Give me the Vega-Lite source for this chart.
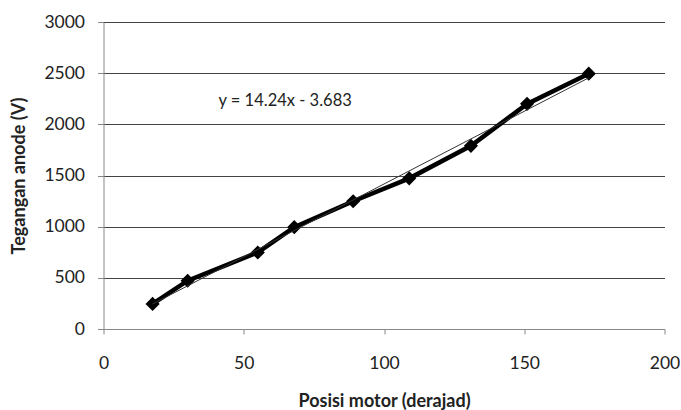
{
  "$schema": "https://vega.github.io/schema/vega-lite/v6.json",
  "width": 561,
  "height": 307,
  "autosize": "none",
  "padding": {"left": 103.5, "top": 22, "right": 16.5, "bottom": 81},
  "background": "white",
  "config": {
    "view": {"stroke": null},
    "font": "Lato",
    "axis": {"labelFont": "Lato", "titleFont": "Lato", "labelColor": "#222", "titleColor": "#222"}
  },
  "data": {
    "values": [
      {"x": 17.5, "y": 245},
      {"x": 30, "y": 472},
      {"x": 55, "y": 748},
      {"x": 68, "y": 995},
      {"x": 89, "y": 1248},
      {"x": 109, "y": 1472},
      {"x": 131, "y": 1790},
      {"x": 151, "y": 2200},
      {"x": 173, "y": 2495}
    ]
  },
  "encoding": {
    "x": {
      "field": "x", "type": "quantitative",
      "scale": {"domain": [0, 200], "nice": false, "zero": true},
      "axis": {
        "values": [0, 50, 100, 150, 200],
        "title": "Posisi motor (derajad)",
        "titleFontSize": 18, "titleFontWeight": "bold", "titlePadding": 21,
        "labelFontSize": 17.5, "labelPadding": 20, "tickSize": 5,
        "grid": false, "domainColor": "#888", "tickColor": "#888", "labelFlush": false
      }
    },
    "y": {
      "field": "y", "type": "quantitative",
      "scale": {"domain": [0, 3000], "nice": false},
      "axis": {
        "values": [0, 500, 1000, 1500, 2000, 2500, 3000],
        "format": "d",
        "title": "Tegangan anode (V)",
        "titleFontSize": 18, "titleFontWeight": "bold", "titlePadding": 15,
        "labelFontSize": 17.5, "labelPadding": 13, "tickSize": 6,
        "grid": true, "gridColor": "#444", "gridWidth": 1,
        "domainColor": "#888", "tickColor": "#888"
      }
    }
  },
  "layer": [
    {
      "mark": {"type": "line", "color": "black", "strokeWidth": 4.5}
    },
    {
      "mark": {"type": "point", "shape": "diamond", "filled": true, "color": "black", "size": 200, "opacity": 1}
    },
    {
      "transform": [{"regression": "y", "on": "x"}],
      "mark": {"type": "line", "color": "#333", "strokeWidth": 1}
    },
    {
      "data": {"values": [{"x": 41, "y": 2230, "label": "y = 14.24x - 3.683"}]},
      "mark": {"type": "text", "align": "left", "baseline": "middle", "fontSize": 16.5, "font": "Lato", "color": "#222"},
      "encoding": {"text": {"field": "label"}}
    }
  ]
}
